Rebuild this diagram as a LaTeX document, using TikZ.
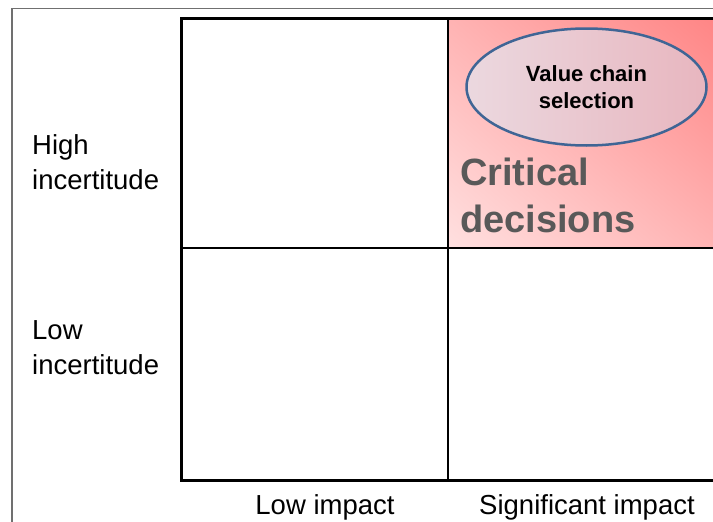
\documentclass[tikz,border=0pt]{standalone}
\usepackage{fontspec}
\setmainfont{Liberation Sans}
\usepackage{xcolor}
\usepackage{tikz}
\usetikzlibrary{shapes.geometric, shadings, positioning}
\definecolor{framegray}{HTML}{707070}
\definecolor{critgray}{HTML}{595959}
\definecolor{ovalblue}{HTML}{3F6595}
\definecolor{pinklight}{HTML}{FFE0E0}
\definecolor{pinkmid}{HTML}{FFB3B3}
\definecolor{pinkdeep}{HTML}{FF8585}
\definecolor{ovalleft}{HTML}{EBD8DF}
\definecolor{ovalright}{HTML}{E8B6BF}

\begin{document}
\begin{tikzpicture}[x=1pt, y=1pt,
    axislabel/.style={font=\fontsize{27.5}{35}\selectfont, align=left, inner sep=0pt},
    impactlabel/.style={font=\fontsize{27.5}{30}\selectfont, inner sep=0pt, anchor=base}]
    \useasboundingbox (0,0) rectangle (713,-522);
    % --- Outer frame ---
    \draw[framegray, line width=1.5pt] (12,-530) -- (12,-8.5) -- (720,-8.5);
    % --- Critical quadrant ---
    \shade[upper left=pinkmid, upper right=pinkdeep,
           lower left=pinklight, lower right=pinkmid]
        (448,-18) rectangle (716,-248);
    % --- Grid ---
    \draw[line width=2pt] (448,-18) -- (448,-480);
    \draw[line width=2pt] (181,-248) -- (716,-248);
    \draw[line width=3pt] (181,-18) rectangle (716,-480);
    % --- Oval ---
    \node[ellipse, draw=ovalblue, line width=2.5pt, inner sep=0pt,
          minimum width=240pt, minimum height=117pt,
          left color=ovalleft, right color=ovalright,
          font=\bfseries\fontsize{22}{27}\selectfont, align=center]
        (valuechain) at (586.5,-87) {Value chain\\selection};
    \node[font=\bfseries\fontsize{38}{47}\selectfont, text=critgray,
          align=left, inner sep=0pt, anchor=north west]
        (critical) at (460,-158) {Critical\\decisions};
    % --- Labels ---
    \node[axislabel, anchor=north west] (highinc) at (32,-134) {High\\incertitude};
    \node[axislabel, anchor=north west] (lowinc) at (32,-320) {Low\\incertitude};
    \node[impactlabel] (lowimp) at (325,-514) {Low impact};
    \node[impactlabel] (sigimp) at (587,-514) {Significant impact};
\end{tikzpicture}
\end{document}
